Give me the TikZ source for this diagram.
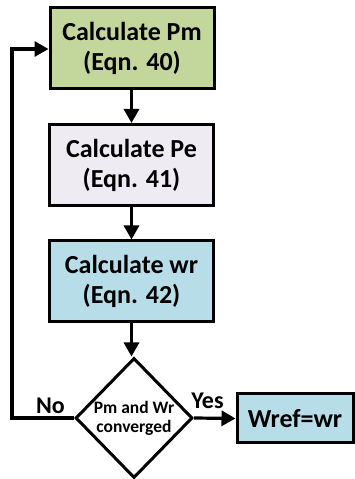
\documentclass[tikz,border=0pt]{standalone}
\usepackage{fontspec}
\setmainfont{Carlito}
\usetikzlibrary{shapes.geometric,arrows.meta}
\definecolor{cgreen}{HTML}{C3D69B}
\definecolor{clav}{HTML}{EEEBF3}
\definecolor{cblue}{HTML}{B7DDE8}
\tikzset{
  procbox/.style={draw=black, line width=3pt, minimum width=164pt, minimum height=81pt, inner sep=0pt, align=center, font=\fontsize{26}{30}\selectfont\bfseries},
  decbox/.style={draw=black, fill=white, line width=3pt, shape=diamond, minimum width=117pt, minimum height=120pt, inner sep=0pt, align=center, font=\fontsize{17.5}{19}\selectfont\bfseries},
  conn/.style={line width=3.2pt, -{Triangle[length=14pt,width=15pt]}},
  lbl/.style={font=\fontsize{24}{26}\selectfont\bfseries, inner sep=0pt}
}
\begin{document}
\begin{tikzpicture}[x=1pt,y=1pt]
\useasboundingbox (0,0) rectangle (354,479);
\node[procbox, fill=cgreen] (b1) at (132,430.5) {Calculate Pm\\(Eqn. 40)};
\node[procbox, fill=clav] (b2) at (131.5,314) {Calculate Pe\\(Eqn. 41)};
\node[procbox, fill=cblue] (b3) at (131.5,197.5) {Calculate wr\\(Eqn. 42)};
\node[decbox] (d) at (134,61) {Pm and Wr\\converged};
\node[procbox, fill=cblue, minimum width=116pt, minimum height=49pt] (w) at (295,60.5) {Wref=wr};
\coordinate (c1) at (12,61);
\coordinate (c2) at (12,430);
\draw[conn] (b1.south -| b2.north) -- (b2.north);
\draw[conn] (b2.south) -- (b3.north);
\draw[conn] (b3.south) -- (d.north -| b3.south);
\draw[conn] (d.east) -- (w.west);
\draw[conn] (d.west) -- (c1) -- (c2) -- (c2 -| b1.west);
\node[lbl] (no) at (50.5,73) {No};
\node[lbl] (yes) at (207.5,78) {Yes};
\end{tikzpicture}
\end{document}
